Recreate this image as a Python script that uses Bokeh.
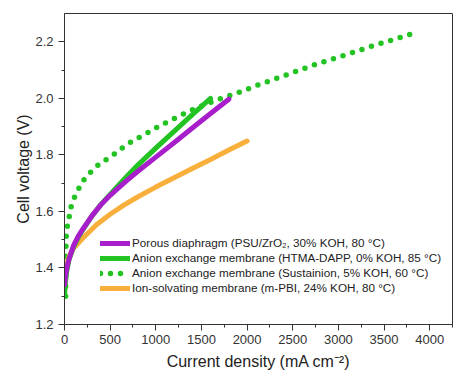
from bokeh.plotting import figure
from bokeh.models import (Range1d, SingleIntervalTicker, Legend, LegendItem, Label,
                          PrintfTickFormatter)
from bokeh.embed import file_html
from bokeh.resources import INLINE

# Polarisation curves: current density (mA cm^-2) vs cell voltage (V)
porous_x = [0, 10, 25, 50, 100, 150, 200, 300, 400, 500, 600, 700, 800, 1000, 1200,
            1400, 1600, 1800]
porous_y = [1.34, 1.37, 1.40, 1.432, 1.48, 1.512, 1.537, 1.584, 1.624, 1.657, 1.686,
            1.714, 1.741, 1.792, 1.843, 1.895, 1.946, 1.997]

htma_x = [0, 10, 25, 50, 100, 150, 200, 300, 400, 500, 600, 700, 800, 1000, 1200, 1400,
          1600]
htma_y = [1.30, 1.35, 1.39, 1.43, 1.475, 1.508, 1.535, 1.583, 1.625, 1.66, 1.695, 1.73,
          1.763, 1.824, 1.883, 1.942, 2.0]

sust_x = [12, 16, 25, 47, 66, 102, 150, 205, 277, 369, 464, 559, 654, 753, 855, 1045,
          1253, 1461, 1673, 1890, 2104, 2320, 2535, 2751, 2970, 3186, 3400, 3620, 3850]
sust_y = [1.30, 1.50, 1.537, 1.572, 1.61, 1.645, 1.677, 1.709, 1.736, 1.764, 1.785, 1.806,
          1.830, 1.851, 1.868, 1.903, 1.937, 1.968, 1.995, 2.018, 2.045, 2.070, 2.095,
          2.120, 2.142, 2.165, 2.188, 2.209, 2.233]

pbi_x = [0, 20, 50, 100, 200, 350, 500, 650, 800, 1000, 1200, 1400, 1600, 1800, 2000]
pbi_y = [1.36, 1.41, 1.44, 1.47, 1.505, 1.553, 1.59, 1.622, 1.651, 1.686, 1.719, 1.752,
         1.784, 1.817, 1.849]

labels = [
    "Porous diaphragm (PSU/ZrO\u2082, 30% KOH, 80 \u00b0C)",
    "Anion exchange membrane (HTMA-DAPP, 0% KOH, 85 \u00b0C)",
    "Anion exchange membrane (Sustainion, 5% KOH, 60 \u00b0C)",
    "Ion-solvating membrane (m-PBI, 24% KOH, 80 \u00b0C)",
]

PURPLE = "#A81ECB"
GREEN = "#22C322"
ORANGE = "#F8AF3C"
FONT = "Liberation Sans"

p = figure(width=474, height=381, x_range=Range1d(0, 4250), y_range=Range1d(1.2, 2.3),
           output_backend="svg", toolbar_location=None,
           min_border_left=64, min_border_right=22, min_border_top=13, min_border_bottom=57)
p.grid.visible = False
p.outline_line_color = "#333333"
p.outline_line_width = 1

r_sust = p.line(sust_x, sust_y, line_color=GREEN, line_width=5.5, line_dash="0 10",
                line_cap="round")
r_pbi = p.line(pbi_x, pbi_y, line_color=ORANGE, line_width=5, line_cap="round",
               line_join="round")
r_htma = p.line(htma_x, htma_y, line_color=GREEN, line_width=5, line_cap="round",
                line_join="round")
r_porous = p.line(porous_x, porous_y, line_color=PURPLE, line_width=5, line_cap="round",
                  line_join="round")

p.xaxis.ticker = SingleIntervalTicker(interval=500, num_minor_ticks=2)
p.yaxis.ticker = SingleIntervalTicker(interval=0.2, num_minor_ticks=2)
p.yaxis.formatter = PrintfTickFormatter(format="%.1f")
p.xaxis.axis_label = "Current density (mA cm\u207b\u00b2)"
p.yaxis.axis_label = "Cell voltage (V)"

for ax in (p.xaxis, p.yaxis):
    ax.axis_line_color = "#333333"
    ax.major_tick_line_color = "#333333"
    ax.minor_tick_line_color = "#333333"
    ax.major_tick_out = 6
    ax.major_tick_in = 0
    ax.minor_tick_out = 3
    ax.minor_tick_in = 0
    ax.major_label_text_font = FONT
    ax.major_label_text_font_size = "13px"
    ax.major_label_text_color = "#333333"
    ax.axis_label_text_font = FONT
    ax.axis_label_text_font_size = "16px"
    ax.axis_label_text_font_style = "normal"
    ax.axis_label_text_color = "#222222"

p.xaxis.major_label_standoff = 4
p.xaxis.axis_label_standoff = 6
p.yaxis.major_label_standoff = 5
p.yaxis.axis_label_standoff = 0

legend = Legend(items=[
    LegendItem(label=labels[0], renderers=[r_porous]),
    LegendItem(label=labels[1], renderers=[r_htma]),
    LegendItem(label=labels[2], renderers=[r_sust]),
    LegendItem(label=labels[3], renderers=[r_pbi]),
], location=(36, 30))
legend.padding = 0
legend.margin = 0
legend.spacing = 2
legend.glyph_width = 30
legend.glyph_height = 12
legend.label_height = 12
legend.label_standoff = 2
legend.label_text_font = FONT
legend.label_text_font_size = "11.7px"
legend.label_text_color = "#222222"
legend.border_line_alpha = 0
legend.background_fill_alpha = 0
p.add_layout(legend)

p.add_layout(Label(x=354, y=-37, x_units="screen", y_units="screen", text="氢眼所见",
                   text_font="Noto Sans CJK SC", text_font_size="11px",
                   text_color="#b4b4b4"))

open("out.html", "w").write(file_html(p, INLINE))
